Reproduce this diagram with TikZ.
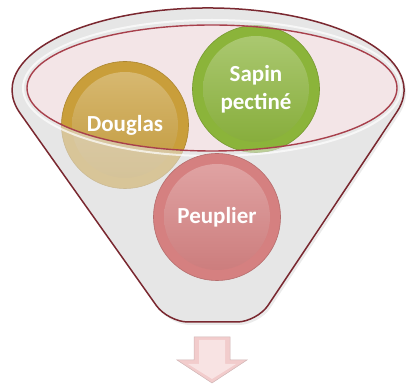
\documentclass[tikz,border=0pt]{standalone}
\usepackage{fontspec}
\setmainfont{Carlito}
\usepackage{xcolor}
\usepackage{tikz}
\usetikzlibrary{positioning}

\definecolor{douglasGold}{HTML}{C99E3A}
\definecolor{sapinGreen}{HTML}{8BB43A}
\definecolor{peuplierRose}{HTML}{D58080}
\definecolor{funnelGrey}{HTML}{E6E6E6}
\definecolor{mouthPink}{HTML}{F3E5E7}
\definecolor{rimDark}{HTML}{7A2830}
\definecolor{rimRed}{HTML}{A8404C}
\definecolor{arrowPink}{HTML}{F2CCCC}

\def\funnelpath{(396.9,273.1) arc[start angle=-15.5, end angle=196.5, x radius=196, y radius=82] {[rounded corners=20] -- (168,63) -- (257,63)} -- cycle}

\begin{document}
\begin{tikzpicture}[x=1pt, y=1pt,
        ball/.style={circle, fill=#1, draw=#1!85!black, line width=0.6pt, minimum size=127pt, inner sep=0pt, align=center, text=white,
            font=\fontsize{23}{27.5}\selectfont\bfseries,
            path picture={\shade[top color=#1!70!white, bottom color=#1!95!black] (path picture bounding box.center) circle (53pt);}},
        rim/.style={draw=rimRed, line width=1.4pt}]
    \useasboundingbox (0,0) rectangle (408,385);
    \coordinate (mouth) at (212,297);

    \fill[black, opacity=0.08, xshift=2, yshift=-3] \funnelpath;
    \fill[funnelGrey] \funnelpath;
    \fill[mouthPink] (mouth) ellipse[x radius=185, y radius=63];

    \node (douglas) [ball=douglasGold] at (125,260) {Douglas};
    \node (sapin) [ball=sapinGreen] at (256,296) {Sapin\\pectiné};

    \fill[funnelGrey, opacity=0.55, even odd rule] \funnelpath (mouth) ellipse[x radius=185, y radius=63];
    \draw[white, line width=2pt, opacity=0.7] (mouth) ellipse[x radius=189, y radius=68];
    \draw[draw=rimDark, line width=1.5pt] \funnelpath;
    \draw[rim] (mouth) ellipse[x radius=185, y radius=63];

    \node (peuplier) [ball=peuplierRose] at (217,168) {Peuplier};

    \draw[arrowPink!70!gray, fill=arrowPink, line width=0.5pt] (194,48) -- (230,48) -- (230,25) -- (247,25) -- (212,2) -- (177,25) -- (194,25) -- cycle;
    \fill[arrowPink!55!white] (199,45) -- (225,45) -- (225,21) -- (236,21) -- (212,6) -- (188,21) -- (199,21) -- cycle;
\end{tikzpicture}
\end{document}
